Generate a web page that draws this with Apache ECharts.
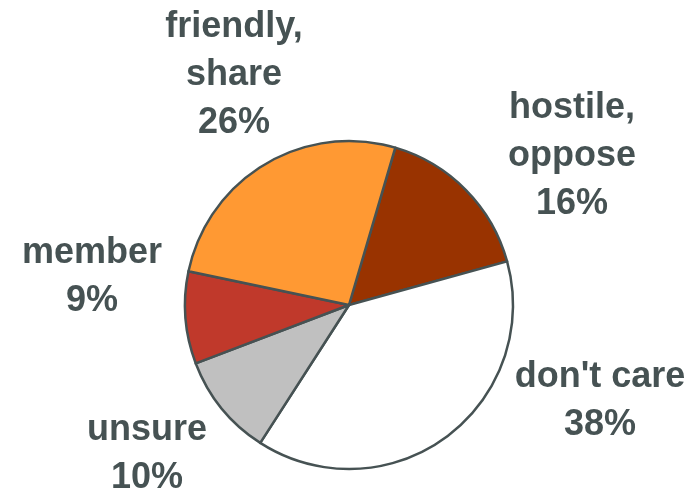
<!DOCTYPE html>
<html>
<head>
<meta charset="utf-8">
<script src="https://cdn.jsdelivr.net/npm/echarts@6/dist/echarts.min.js"></script>
<style>html,body{margin:0;padding:0;background:#fff;}#c{width:696px;height:493px;}</style>
</head>
<body>
<div id="c"></div>
<script>
const categories = ["hostile,\noppose", "don't care", "unsure", "member", "friendly,\nshare"];
const values = [16, 38, 10, 9, 26];
const colors = ["#993300", "#FFFFFF", "#C0C0C0", "#C0392B", "#FF9933"];
const labelCenters = [[572, 156], [600, 401], [147, 454], [92, 277], [234, 75]];

const chart = echarts.init(document.getElementById('c'), null, {renderer: 'canvas'});
chart.setOption({
  animation: false,
  backgroundColor: '#ffffff',
  series: [{
    type: 'pie',
    center: [349, 305],
    radius: [0, 164],
    startAngle: 73.6,
    clockwise: true,
    avoidLabelOverlap: false,
    itemStyle: { borderColor: '#465253', borderWidth: 2.5 },
    label: {
      show: true,
      position: 'outside',
      formatter: function (p) { return p.name + '\n' + p.value + '%'; },
      fontFamily: 'Liberation Sans, Arial, sans-serif',
      fontWeight: 'bold',
      fontSize: 36,
      lineHeight: 48,
      color: '#465253',
      align: 'center'
    },
    labelLine: { show: false },
    labelLayout: function (params) {
      const c = labelCenters[params.dataIndex];
      return { x: c[0], y: c[1], align: 'center', verticalAlign: 'middle' };
    },
    data: categories.map((n, i) => ({ name: n, value: values[i], itemStyle: { color: colors[i] } }))
  }]
});
</script>
</body>
</html>
